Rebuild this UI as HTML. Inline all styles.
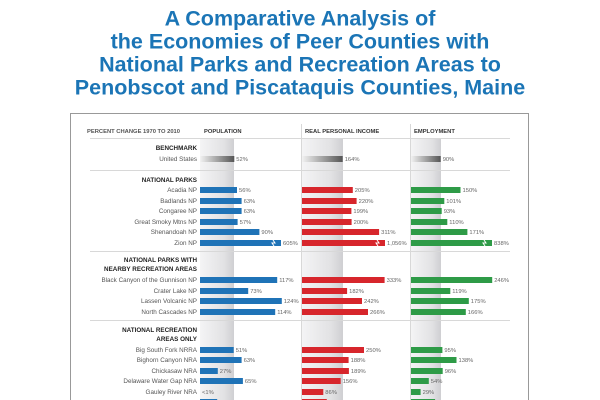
<!DOCTYPE html>
<html><head><meta charset="utf-8"><style>
html,body{margin:0;padding:0;background:#fff;width:600px;height:400px;overflow:hidden}
svg{display:block}
</style></head><body>
<svg id="s" width="600" height="400" xmlns="http://www.w3.org/2000/svg" font-family="Liberation Sans, sans-serif">
<defs>
<linearGradient id="band" x1="0" x2="1"><stop offset="0" stop-color="#f4f4f5"/><stop offset="0.7" stop-color="#e2e2e4"/><stop offset="1" stop-color="#cfcfd2"/></linearGradient>
<linearGradient id="us" x1="0" x2="1"><stop offset="0" stop-color="#f2f2f2"/><stop offset="1" stop-color="#555"/></linearGradient>
</defs>
<g fill="#1b75b6" font-weight="bold" font-size="21.5" text-anchor="middle">
<text x="300" y="25.5">A Comparative Analysis of</text>
<text x="300" y="48.5">the Economies of Peer Counties with</text>
<text x="300" y="71.5">National Parks and Recreation Areas to</text>
<text x="300" y="94.5">Penobscot and Piscataquis Counties, Maine</text>
</g>
<rect x="70.5" y="113.5" width="458" height="300" fill="none" stroke="#999" stroke-width="1"/>
<rect x="200" y="139" width="34" height="270" fill="url(#band)"/>
<rect x="302" y="139" width="41" height="270" fill="url(#band)"/>
<rect x="411" y="139" width="30" height="270" fill="url(#band)"/>
<g stroke="#d8d8d8" stroke-width="1">
<line x1="301.5" y1="124" x2="301.5" y2="400"/>
<line x1="410.5" y1="124" x2="410.5" y2="400"/>
<line x1="90" y1="138.5" x2="510" y2="138.5"/>
<line x1="90" y1="170.5" x2="510" y2="170.5"/>
<line x1="90" y1="251.5" x2="510" y2="251.5"/>
<line x1="90" y1="320.5" x2="510" y2="320.5"/>
</g>
<g font-size="5.8" font-weight="bold" fill="#333">
<text x="87" y="133" fill="#555">PERCENT CHANGE 1970 TO 2010</text>
<text x="204" y="133">POPULATION</text>
<text x="305" y="133">REAL PERSONAL INCOME</text>
<text x="414" y="133">EMPLOYMENT</text>
</g>
<g id="g"></g>
</svg>
<script>
var g=document.getElementById('g'),h='';
function t(x,y,s,o){h+='<text x="'+x+'" y="'+y+'" '+(o||'')+'>'+s+'</text>';}
var heads=[[150,'BENCHMARK'],[182,'NATIONAL PARKS'],[262,'NATIONAL PARKS WITH'],[271,'NEARBY RECREATION AREAS'],[332,'NATIONAL RECREATION'],[341,'AREAS ONLY']];
heads.forEach(function(a){t(197,a[0],a[1],'font-size="6.3" font-weight="bold" fill="#222" text-anchor="end"');});
var rows=[
[159,'United States',52,164,90,0,'us'],
[190,'Acadia NP',56,205,150],
[201,'Badlands NP',63,220,101],
[211,'Congaree NP',63,199,93],
[222,'Great Smoky Mtns NP',57,200,110],
[232,'Shenandoah NP',90,311,171],
[243,'Zion NP',605,1056,838,1],
[280,'Black Canyon of the Gunnison NP',117,333,246],
[291,'Crater Lake NP',73,182,119],
[301,'Lassen Volcanic NP',124,242,175],
[312,'North Cascades NP',114,266,166],
[350,'Big South Fork NRRA',51,250,95],
[360,'Bighorn Canyon NRA',63,188,138],
[371,'Chickasaw NRA',27,189,96],
[381,'Delaware Water Gap NRA',65,156,54],
[392,'Gauley River NRA',0,86,29,0,'lt'],
[402,'',26,100,73]];
var cols=[[200,0.66,'#1f73b7',81],[302,0.248,'#d7262c',83],[411,0.33,'#2e9b47',81]];
function fmt(v){return v>=1000?Math.floor(v/1000)+','+String(v%1000).padStart(3,'0'):String(v);}
rows.forEach(function(r){
 var y=r[0];
 if(r[1])t(197,y+2.2,r[1],'font-size="6.3" fill="#555" text-anchor="end"');
 for(var i=0;i<3;i++){
  var c=cols[i],v=r[2+i],w=r[5]?c[3]:v*c[1];
  if(w>0)h+='<rect x="'+c[0]+'" y="'+(y-3)+'" width="'+w.toFixed(1)+'" height="6" fill="'+(r[6]=='us'?'url(#us)':c[2])+'"/>';
  if(r[5])h+='<path d="M'+(c[0]+w-8)+' '+(y-3)+' l2 3 -3 0 2 3" stroke="#fff" stroke-width="1" fill="none"/>';
  var lab=(r[6]=='lt'&&i==0)?'&lt;1%':fmt(v)+'%';
  t((c[0]+w+2).toFixed(1),y+2.2,lab,'font-size="5.8" fill="#666"');
 }
});
g.innerHTML=h;
</script>
</body></html>
